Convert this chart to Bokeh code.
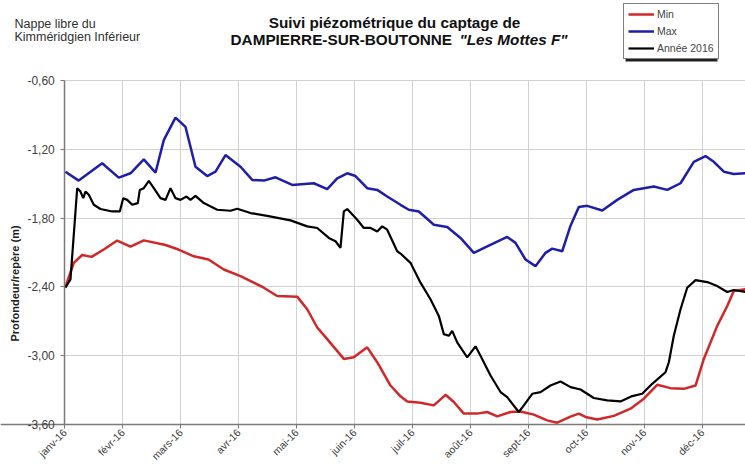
import math
from bokeh.plotting import figure
from bokeh.models import (FixedTicker, Label, Legend, LegendItem, Range1d, BoxAnnotation)
from bokeh.embed import file_html
from bokeh.resources import INLINE

# ---- data (x in months from 1 Jan 2016, y = depth in m) ----
month_labels = ["janv-16", "févr-16", "mars-16", "avr-16", "mai-16", "juin-16",
                "juil-16", "août-16", "sept-16", "oct-16", "nov-16", "déc-16"]
month_pos = list(range(12))
y_ticks = [-3.6, -3.0, -2.4, -1.8, -1.2, -0.6]
y_tick_labels = ["-3,60", "-3,00", "-2,40", "-1,80", "-1,20", "-0,60"]

min_x = [0.01, 0.155, 0.300, 0.461, 0.673, 0.904, 1.134, 1.363, 1.738, 1.962, 2.226, 2.480,
         2.744, 3.032, 3.261, 3.434, 3.665, 4.010, 4.183, 4.356, 4.528, 4.815, 4.987, 5.218,
         5.391, 5.620, 5.793, 5.909, 6.138, 6.368, 6.570, 6.713, 6.885, 7.116, 7.289, 7.462,
         7.691, 7.864, 8.093, 8.324, 8.497, 8.727, 8.870, 8.985, 9.187, 9.474, 9.762, 9.991,
         10.223, 10.452, 10.682, 10.884, 11.027, 11.258, 11.431, 11.544, 11.746]
min_y = [-2.400, -2.190, -2.122, -2.138, -2.074, -1.996, -2.048, -1.994, -2.035, -2.074, -2.133,
         -2.161, -2.248, -2.306, -2.363, -2.407, -2.479, -2.485, -2.595, -2.754, -2.855, -3.028,
         -3.014, -2.927, -3.057, -3.260, -3.354, -3.399, -3.410, -3.433, -3.341, -3.404, -3.505,
         -3.505, -3.491, -3.529, -3.491, -3.486, -3.514, -3.564, -3.584, -3.531, -3.505, -3.534,
         -3.557, -3.525, -3.462, -3.375, -3.254, -3.283, -3.289, -3.260, -3.028, -2.740, -2.566,
         -2.436, -2.421]

max_x = [0.01, 0.24, 0.645, 0.93, 1.134, 1.363, 1.565, 1.708, 1.910, 2.083, 2.255, 2.457, 2.601,
         2.773, 3.032, 3.234, 3.434, 3.636, 3.924, 4.297, 4.528, 4.701, 4.873, 5.016, 5.218,
         5.391, 5.563, 5.793, 5.936, 6.109, 6.368, 6.599, 6.828, 7.058, 7.289, 7.634, 7.777,
         7.950, 8.122, 8.295, 8.411, 8.583, 8.727, 8.870, 9.015, 9.274, 9.532, 9.819, 10.164,
         10.395, 10.625, 10.854, 11.056, 11.199, 11.372, 11.544, 11.746]
max_y = [-1.395, -1.473, -1.322, -1.447, -1.409, -1.288, -1.404, -1.120, -0.924, -1.005, -1.352,
         -1.433, -1.395, -1.250, -1.352, -1.467, -1.473, -1.444, -1.511, -1.496, -1.548, -1.453,
         -1.409, -1.433, -1.539, -1.554, -1.612, -1.684, -1.727, -1.742, -1.858, -1.878, -1.973,
         -2.103, -2.046, -1.964, -2.016, -2.161, -2.219, -2.103, -2.066, -2.089, -1.866, -1.704,
         -1.693, -1.734, -1.641, -1.554, -1.525, -1.554, -1.496, -1.309, -1.259, -1.309, -1.395,
         -1.415, -1.409]

an_x = [0.01, 0.098, 0.214, 0.271, 0.318, 0.357, 0.414, 0.500, 0.616, 0.818, 0.949, 1.008, 1.077,
        1.163, 1.260, 1.294, 1.363, 1.450, 1.536, 1.651, 1.738, 1.824, 1.910, 1.997, 2.100,
        2.169, 2.255, 2.399, 2.630, 2.859, 2.975, 3.204, 3.493, 3.895, 4.183, 4.356, 4.556,
        4.671, 4.757, 4.815, 4.873, 5.046, 5.160, 5.275, 5.391, 5.477, 5.563, 5.736, 5.793,
        5.965, 6.138, 6.310, 6.454, 6.540, 6.626, 6.685, 6.771, 6.944, 7.087, 7.173, 7.346,
        7.519, 7.634, 7.834, 7.921, 8.066, 8.209, 8.381, 8.554, 8.727, 8.899, 9.128, 9.360,
        9.589, 9.791, 9.964, 10.136, 10.366, 10.423, 10.509, 10.625, 10.740, 10.884, 11.085,
        11.258, 11.431, 11.544, 11.746]
an_y = [-2.407, -2.335, -1.539, -1.569, -1.626, -1.569, -1.597, -1.684, -1.721, -1.742, -1.742,
        -1.626, -1.641, -1.684, -1.669, -1.554, -1.539, -1.476, -1.539, -1.626, -1.641, -1.539,
        -1.626, -1.641, -1.612, -1.641, -1.606, -1.669, -1.727, -1.736, -1.719, -1.756, -1.780,
        -1.820, -1.872, -1.886, -1.973, -2.002, -2.060, -1.742, -1.721, -1.814, -1.886, -1.886,
        -1.916, -1.872, -1.901, -2.089, -2.109, -2.190, -2.363, -2.508, -2.653, -2.812, -2.826,
        -2.783, -2.884, -3.014, -2.918, -3.000, -3.173, -3.317, -3.361, -3.491, -3.433, -3.332,
        -3.317, -3.260, -3.225, -3.274, -3.295, -3.369, -3.390, -3.399, -3.352, -3.332, -3.245,
        -3.144, -3.057, -2.826, -2.595, -2.407, -2.341, -2.358, -2.393, -2.445, -2.427, -2.445]

FONT = "Liberation Sans"
Y_BOT, Y_TOP = y_ticks[0], y_ticks[-1]

# The frame covers the whole canvas; axes are pinned at the chart's edges.
p = figure(width=745, height=464, output_backend="svg", toolbar_location=None,
           x_range=Range1d(-1.1096, 11.746), y_range=Range1d(-3.9488, 0.0977),
           min_border=0, min_border_left=0, min_border_right=0,
           min_border_top=0, min_border_bottom=0)
p.outline_line_color = None
p.background_fill_color = "white"
p.border_fill_color = "white"

# grids
p.xgrid.ticker = FixedTicker(ticks=month_pos)
p.ygrid.ticker = FixedTicker(ticks=y_ticks)
for g in (p.xgrid[0], p.ygrid[0]):
    g.grid_line_color = "#d0d0d0"
    g.grid_line_width = 1
p.xgrid.level = "image"
p.ygrid.level = "underlay"
# masks to keep grid lines inside the chart area
p.add_layout(BoxAnnotation(bottom=Y_TOP, fill_color="white", fill_alpha=1,
                           line_color=None, level="image"))
p.add_layout(BoxAnnotation(top=Y_BOT, fill_color="white", fill_alpha=1,
                           line_color=None, level="image"))
p.add_layout(BoxAnnotation(right=month_pos[0], fill_color="white", fill_alpha=1,
                           line_color=None, level="underlay"))

# x axis
p.xaxis.fixed_location = Y_BOT
p.xaxis.ticker = FixedTicker(ticks=month_pos)
p.xaxis.major_label_overrides = {m: l for m, l in zip(month_pos, month_labels)}
p.xaxis.major_label_orientation = math.pi / 4
p.xaxis.major_label_text_font = FONT
p.xaxis.major_label_text_font_size = "10.5px"
p.xaxis.major_label_text_color = "#404040"
p.xaxis.major_label_standoff = 2
p.xaxis.major_tick_out = 4
p.xaxis.major_tick_in = 0
p.xaxis.minor_tick_line_color = None
p.xaxis.axis_line_color = "#7a7a7a"
p.xaxis.axis_line_width = 1.5
p.xaxis.major_tick_line_color = "#7a7a7a"

# y axis
p.yaxis.fixed_location = month_pos[0]
p.yaxis.bounds = (Y_BOT, Y_TOP)
p.yaxis.ticker = FixedTicker(ticks=y_ticks)
p.yaxis.major_label_overrides = {t: l for t, l in zip(y_ticks, y_tick_labels)}
p.yaxis.major_label_text_font = FONT
p.yaxis.major_label_text_font_size = "12px"
p.yaxis.major_label_text_color = "#404040"
p.yaxis.major_label_standoff = 6
p.yaxis.major_tick_out = 4
p.yaxis.major_tick_in = 0
p.yaxis.minor_tick_line_color = None
p.yaxis.axis_line_color = "#7a7a7a"
p.yaxis.axis_line_width = 1.5
p.yaxis.major_tick_line_color = "#7a7a7a"

# y axis title (placed like the reference, below the axis middle)
p.add_layout(Label(x=-0.853, y=-2.37, text="Profondeur/repère (m)", angle=math.pi / 2,
                   text_align="center", text_baseline="middle", text_font=FONT,
                   text_font_size="11px", text_font_style="bold", text_color="#202020"))

# series
r_min = p.line(min_x, min_y, line_color="#d02828", line_width=2.5)
r_max = p.line(max_x, max_y, line_color="#1e1eaa", line_width=2.5)
r_an = p.line(an_x, an_y, line_color="black", line_width=2.2)

# legend (with a small drop shadow like the reference)
p.add_layout(BoxAnnotation(left=9.676, right=11.263, top=0.0366, bottom=-0.4343,
                           fill_color="#202020", fill_alpha=1, line_color=None))
legend = Legend(items=[LegendItem(label="Min", renderers=[r_min]),
                       LegendItem(label="Max", renderers=[r_max]),
                       LegendItem(label="Année 2016", renderers=[r_an])],
                location=(623, 405), margin=0, padding=4, spacing=5,
                glyph_width=26, glyph_height=12, label_height=12, label_standoff=3,
                label_text_font=FONT, label_text_font_size="10.5px",
                border_line_color="black", border_line_width=1,
                background_fill_color="white", background_fill_alpha=1)
p.add_layout(legend)

# titles
p.add_layout(Label(x=5.689, y=-0.0898, text="Suivi piézométrique du captage de",
                   text_align="center", text_baseline="alphabetic", text_font=FONT,
                   text_font_size="15.3px", text_font_style="bold", text_color="#111111"))
p.add_layout(Label(x=2.860, y=-0.2381, text="DAMPIERRE-SUR-BOUTONNE",
                   text_align="left", text_baseline="alphabetic", text_font=FONT,
                   text_font_size="15.3px", text_font_style="bold", text_color="#111111"))
p.add_layout(Label(x=6.811, y=-0.2381, text="\"Les Mottes F\"",
                   text_align="left", text_baseline="alphabetic", text_font=FONT,
                   text_font_size="15.3px", text_font_style="bold italic", text_color="#111111"))
p.add_layout(Label(x=-0.8689, y=-0.1116, text="Nappe libre du",
                   text_align="left", text_baseline="alphabetic", text_font=FONT,
                   text_font_size="12.5px", text_color="#303030"))
p.add_layout(Label(x=-0.8689, y=-0.2206, text="Kimméridgien Inférieur",
                   text_align="left", text_baseline="alphabetic", text_font=FONT,
                   text_font_size="12.5px", text_color="#303030"))

open("out.html", "w").write(file_html(p, INLINE))
